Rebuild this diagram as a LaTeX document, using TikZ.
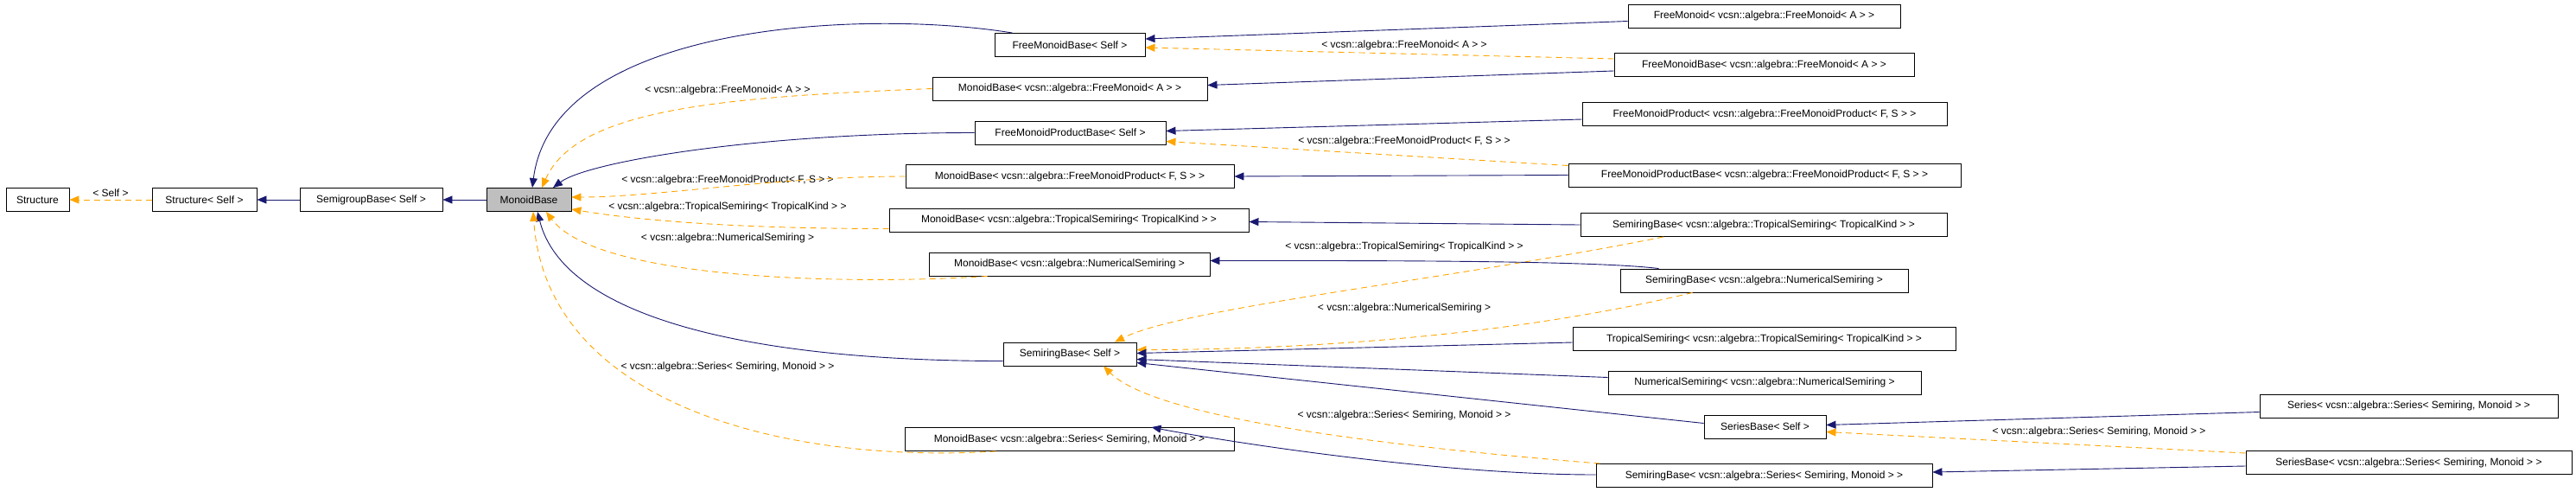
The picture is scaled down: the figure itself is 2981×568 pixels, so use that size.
\documentclass[tikz,border=0pt]{standalone}
\usepackage{fontspec}
\setmainfont{Liberation Sans}
\usetikzlibrary{arrows.meta}
\definecolor{navyc}{HTML}{191970}
\definecolor{orangec}{HTML}{FFA500}
\begin{document}
\begin{tikzpicture}[x=1pt,y=1pt,
  box/.style={draw,line width=0.9pt,minimum height=27,inner sep=0,font=\fontsize{12}{14}\selectfont},
  lbl/.style={inner sep=0,font=\fontsize{12}{14}\selectfont},
  inh/.style={draw=navyc,line width=0.9pt,-{Triangle[length=11,width=9]},arrows={-{Triangle[length=11,width=9,fill=navyc]}}},
  tpl/.style={draw=orangec,line width=0.9pt,dash pattern=on 7pt off 5pt,arrows={-{Triangle[length=11,width=9,fill=orangec]}}}]
\useasboundingbox (0,0) rectangle (2981,-568);
% left chain
\node[box,minimum width=73] (st) at (43.5,-231) {Structure};
\node[box,minimum width=121] (sts) at (236.5,-231) {Structure< Self >};
\node[box,minimum width=165] (sg) at (429.5,-231) {SemigroupBase< Self >};
\node[box,minimum width=98,fill=black!25] (mb) at (612,-231) {MonoidBase};
% middle column
\node[box,minimum width=174] (fmbs) at (1238,-52) {FreeMonoidBase< Self >};
\node[box,minimum width=318] (mbfm) at (1238,-102.5) {MonoidBase< vcsn::algebra::FreeMonoid< A > >};
\node[box,minimum width=221] (fmpbs) at (1238.5,-153.5) {FreeMonoidProductBase< Self >};
\node[box,minimum width=380] (mbfmp) at (1238,-204) {MonoidBase< vcsn::algebra::FreeMonoidProduct< F, S > >};
\node[box,minimum width=416] (mbtrop) at (1237,-254.5) {MonoidBase< vcsn::algebra::TropicalSemiring< TropicalKind > >};
\node[box,minimum width=325] (mbnum) at (1237.5,-305.5) {MonoidBase< vcsn::algebra::NumericalSemiring >};
\node[box,minimum width=154] (srbs) at (1238,-409.5) {SemiringBase< Self >};
\node[box,minimum width=381] (mbser) at (1237.5,-508) {MonoidBase< vcsn::algebra::Series< Semiring, Monoid > >};
% right column
\node[box,minimum width=315] (fm) at (2041.5,-18.5) {FreeMonoid< vcsn::algebra::FreeMonoid< A > >};
\node[box,minimum width=347] (fmb) at (2041.5,-75) {FreeMonoidBase< vcsn::algebra::FreeMonoid< A > >};
\node[box,minimum width=422] (fmp) at (2042,-132) {FreeMonoidProduct< vcsn::algebra::FreeMonoidProduct< F, S > >};
\node[box,minimum width=454] (fmpb) at (2042,-202.5) {FreeMonoidProductBase< vcsn::algebra::FreeMonoidProduct< F, S > >};
\node[box,minimum width=424] (srtrop) at (2041,-260) {SemiringBase< vcsn::algebra::TropicalSemiring< TropicalKind > >};
\node[box,minimum width=333] (srnum) at (2041.5,-324.5) {SemiringBase< vcsn::algebra::NumericalSemiring >};
\node[box,minimum width=443] (trop) at (2041.5,-392) {TropicalSemiring< vcsn::algebra::TropicalSemiring< TropicalKind > >};
\node[box,minimum width=362] (num) at (2042,-442.5) {NumericalSemiring< vcsn::algebra::NumericalSemiring >};
\node[box,minimum width=141] (serbs) at (2042.5,-493.5) {SeriesBase< Self >};
\node[box,minimum width=389] (srser) at (2041.5,-550) {SemiringBase< vcsn::algebra::Series< Semiring, Monoid > >};
\node[box,minimum width=345] (ser) at (2787.5,-469.5) {Series< vcsn::algebra::Series< Semiring, Monoid > >};
\node[box,minimum width=377] (serb) at (2787.5,-535) {SeriesBase< vcsn::algebra::Series< Semiring, Monoid > >};
% labels
\node[lbl] (l1) at (128,-223) {< Self >};
\node[lbl] (l2) at (842,-104) {< vcsn::algebra::FreeMonoid< A > >};
\node[lbl] (l3) at (842,-208) {< vcsn::algebra::FreeMonoidProduct< F, S > >};
\node[lbl] (l4) at (842,-239) {< vcsn::algebra::TropicalSemiring< TropicalKind > >};
\node[lbl] (l5) at (842,-275) {< vcsn::algebra::NumericalSemiring >};
\node[lbl] (l6) at (842,-424) {< vcsn::algebra::Series< Semiring, Monoid > >};
\node[lbl] (l7) at (1625,-52) {< vcsn::algebra::FreeMonoid< A > >};
\node[lbl] (l8) at (1625,-163) {< vcsn::algebra::FreeMonoidProduct< F, S > >};
\node[lbl] (l9) at (1625,-285) {< vcsn::algebra::TropicalSemiring< TropicalKind > >};
\node[lbl] (l10) at (1625,-356) {< vcsn::algebra::NumericalSemiring >};
\node[lbl] (l11) at (1625,-480) {< vcsn::algebra::Series< Semiring, Monoid > >};
\node[lbl] (l12) at (2429,-499) {< vcsn::algebra::Series< Semiring, Monoid > >};
% left edges
\draw[tpl] (sts.west) -- (st.east);
\draw[inh] (sg.west) -- (sts.east);
\draw[inh] (mb.west) -- (sg.east);
% edges into MonoidBase
\draw[inh] ([xshift=21]fmbs.north west) .. controls +(-172,28) and +(24,190) .. ([xshift=4]mb.north);
\draw[tpl] (mbfm.west) .. controls +(-250,-10) and +(40,90) .. ([xshift=15]mb.north);
\draw[inh] (fmpbs.west) .. controls +(-250,0) and +(40,30) .. ([xshift=28]mb.north);
\draw[tpl] (mbfmp.west) .. controls +(-150,0) and +(100,0) .. ([yshift=3]mb.east);
\draw[tpl] ([yshift=-10]mbtrop.west) .. controls +(-200,0) and +(60,-10) .. ([yshift=-11]mb.east);
\draw[tpl] ([xshift=-95]mbnum.south) .. controls +(-150,-10) and +(60,-80) .. ([xshift=20]mb.south);
\draw[inh] ([yshift=-8]srbs.west) .. controls +(-300,0) and +(30,-120) .. ([xshift=10]mb.south);
\draw[tpl] ([xshift=-85]mbser.south) .. controls +(-250,-15) and +(15,-220) .. ([xshift=5]mb.south);
% right edges
\draw[inh] ([yshift=-6]fm.west) -- ([yshift=7]fmbs.east);
\draw[tpl] ([yshift=7]fmb.west) -- ([yshift=-3]fmbs.east);
\draw[inh] ([yshift=-7]fmb.west) -- ([yshift=4]mbfm.east);
\draw[inh] ([yshift=-6]fmp.west) -- ([yshift=2]fmpbs.east);
\draw[tpl] ([yshift=11]fmpb.west) -- ([yshift=-10]fmpbs.east);
\draw[inh] (fmpb.west) -- (mbfmp.east);
\draw[inh] (srtrop.west) -- ([yshift=-2]mbtrop.east);
\draw[tpl] ([xshift=-116]srtrop.south) .. controls +(-250,-50) and +(80,40) .. ([xshift=52]srbs.north);
\draw[inh] ([xshift=-122]srnum.north) .. controls +(-80,10) and +(150,0) .. ([yshift=4]mbnum.east);
\draw[tpl] ([xshift=-83]srnum.south) .. controls +(-250,-60) and +(120,0) .. ([yshift=5]srbs.east);
\draw[inh] ([yshift=-4]trop.west) -- ([yshift=1]srbs.east);
\draw[inh] ([yshift=6]num.west) -- ([yshift=-6]srbs.east);
\draw[inh] ([yshift=4]serbs.west) -- ([yshift=-10]srbs.east);
\draw[tpl] ([xshift=-190]srser.north) .. controls +(-250,20) and +(60,-60) .. ([xshift=39]srbs.south);
\draw[inh] ([yshift=1]srser.west) .. controls +(-200,0) and +(50,-10) .. ([xshift=95]mbser.north);
\draw[inh] ([yshift=-7]ser.west) -- ([yshift=2]serbs.east);
\draw[tpl] ([yshift=11]serb.west) -- ([yshift=-6]serbs.east);
\draw[inh] ([yshift=-4]serb.west) -- ([yshift=4]srser.east);
\end{tikzpicture}
\end{document}
